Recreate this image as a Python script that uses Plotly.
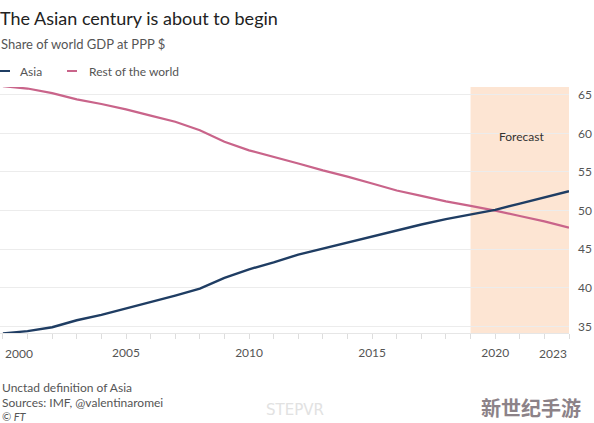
import plotly.graph_objects as go

years = list(range(2000, 2024))
asia = [34.1, 34.4, 34.9, 35.8, 36.5, 37.3, 38.1, 39.0, 39.9, 41.3, 42.4, 43.3,
        44.3, 45.1, 45.9, 46.7, 47.5, 48.2, 48.9, 49.5, 50.1, 50.9, 51.7, 52.5]
rest = [66.1, 65.8, 65.2, 64.4, 63.8, 63.1, 62.3, 61.5, 60.4, 58.9, 57.8, 57.0,
        56.1, 55.2, 54.4, 53.5, 52.6, 51.9, 51.2, 50.6, 50.0, 49.3, 48.6, 47.8]
forecast_start, forecast_end = 2019, 2023
x_tick_vals = [2005, 2010, 2015, 2020]
y_tick_vals = [35, 40, 45, 50, 55, 60, 65]

ASIA_C = "#1f3d63"
REST_C = "#c9648a"
GRID_C = "#ececec"
TXT_C = "#555555"
FONT = "Lato"

W, H = 594, 423
ML, MR, MT, MB = 0, 25, 87, 90
PW = W - ML - MR
PH = H - MT - MB


def px(x):
    return (x - ML) / PW


def py(y):
    return (H - MB - y) / PH


fig = go.Figure()
fig.add_vrect(x0=forecast_start, x1=forecast_end, fillcolor="#fde5d3",
              line_width=0, layer="below")
fig.add_trace(go.Scatter(x=years, y=rest, mode="lines", name="Rest of the world",
                         line=dict(color=REST_C, width=2.2), showlegend=False))
fig.add_trace(go.Scatter(x=years, y=asia, mode="lines", name="Asia",
                         line=dict(color=ASIA_C, width=2.4), showlegend=False))

ann = []
ann.append(dict(text="The Asian century is about to begin", x=-2, y=18,
                xanchor="left", font=dict(size=18, color="#222222", family=FONT)))
ann.append(dict(text="Share of world GDP at PPP $", x=-1, y=44,
                xanchor="left", font=dict(size=13, color=TXT_C, family=FONT)))
ann.append(dict(text="Asia", x=18, y=71, xanchor="left",
                font=dict(size=12, color=TXT_C, family=FONT)))
ann.append(dict(text="Rest of the world", x=87, y=71, xanchor="left",
                font=dict(size=12, color=TXT_C, family=FONT)))
ann.append(dict(text="Forecast", x=521, y=136, xanchor="center",
                font=dict(size=12, color="#333333", family=FONT)))
for t, yy, fs in [("Unctad definition of Asia", 387, 12),
                  ("Sources: IMF, @valentinaromei", 402, 12),
                  ("<i>© FT</i>", 416.5, 11)]:
    ann.append(dict(text=t, x=0, y=yy, xanchor="left",
                    font=dict(size=fs, color=TXT_C, family=FONT)))
ann.append(dict(text="STEPVR", x=295, y=410, xanchor="center",
                font=dict(size=15, color="#e2e2e2", family="DejaVu Sans")))
ann.append(dict(text="<b>新世纪手游</b>", x=531, y=407, xanchor="center",
                font=dict(size=20, color="#8c8288", family="Noto Sans CJK SC")))

for a in ann:
    a["xref"] = "paper"
    a["yref"] = "paper"
    a["x"] = px(a["x"])
    a["y"] = py(a["y"])
    a["yanchor"] = "middle"
    a["showarrow"] = False

# legend swatches as filled annotation boxes
for x0, col in [(0, ASIA_C), (67, REST_C)]:
    ann.append(dict(text=" ", x=px(x0), y=py(71), xref="paper", yref="paper",
                    xanchor="left", yanchor="middle", showarrow=False,
                    width=10, height=2, bgcolor=col, borderpad=0, borderwidth=0,
                    font=dict(size=1)))

# end x-axis labels (left/right aligned at their ticks)
for val, anchor in [(2000, "left"), (2023, "right")]:
    ann.append(dict(text=str(val), x=val, xref="x", y=py(353), yref="paper",
                    xanchor=anchor, yanchor="middle", showarrow=False,
                    font=dict(size=12, color=TXT_C, family=FONT)))

fig.update_layout(
    width=W, height=H, paper_bgcolor="white", plot_bgcolor="white",
    margin=dict(l=ML, r=MR, t=MT, b=MB),
    annotations=ann, showlegend=False,
    font=dict(family=FONT, color=TXT_C, size=12),
)
fig.update_xaxes(range=[1999.88, 2023.0], tickvals=x_tick_vals, ticks="outside",
                 ticklen=5, tickcolor="#dddddd", showgrid=False, showline=True,
                 linecolor="#e6e6e6", zeroline=False, tickfont=dict(size=12, color=TXT_C),
                 ticklabelstandoff=4,
                 minor=dict(dtick=1, tick0=2000, ticks="outside", ticklen=5,
                            tickcolor="#dddddd", showgrid=False))
fig.update_yaxes(range=[34.15, 66.0], tickvals=y_tick_vals, side="right", showgrid=True,
                 gridcolor=GRID_C, zeroline=False, ticks="", ticklabelstandoff=8,
                 tickfont=dict(size=12, color=TXT_C))

fig.write_html("out.html")
